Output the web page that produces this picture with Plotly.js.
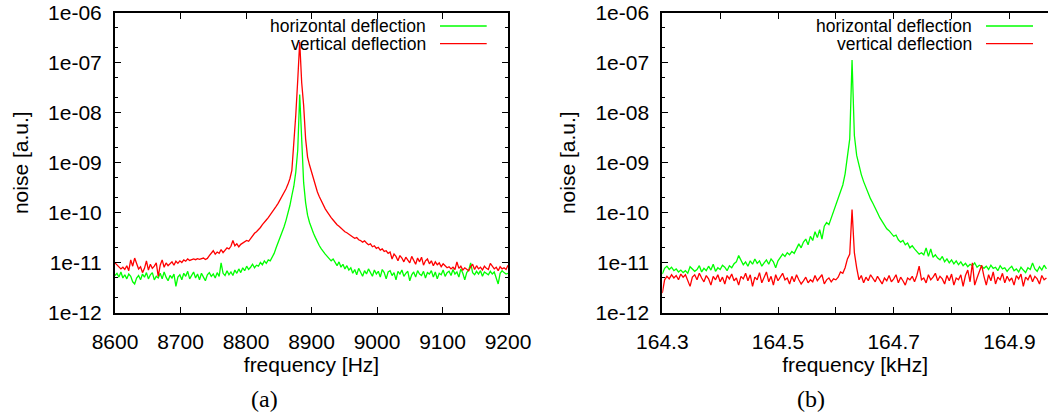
<!DOCTYPE html>
<html>
<head>
<meta charset="utf-8">
<script src="https://cdn.plot.ly/plotly-3.0.1.min.js"></script>
<style>
  html, body { margin: 0; padding: 0; background: #ffffff; overflow: hidden; }
  #chart { width: 1048px; height: 415px; }
</style>
</head>
<body>
<div id="chart"></div>
<script>
// ---------- panel (a): frequency in Hz ----------
const freqA = [
  8600,8603,8606,8609,8612,8615,8618,8621,8624,8627,
  8630,8633,8636,8639,8642,8645,8648,8651,8654,8657,
  8660,8663,8666,8669,8672,8675,8678,8681,8684,8687,
  8690,8693,8696,8699,8702,8705,8708,8711,8714,8717,
  8720,8723,8726,8729,8732,8735,8738,8741,8744,8747,
  8750,8753,8756,8759,8762,8765,8768,8771,8774,8777,
  8780,8783,8786,8789,8792,8795,8798,8801,8804,8807,
  8810,8813,8816,8819,8822,8825,8828,8831,8834,8837,
  8840,8843,8846,8849,8852,8855,8858,8861,8864,8867,
  8870,8873,8876,8879,8882,8885,8888,8891,8894,8897,
  8900,8903,8906,8909,8912,8915,8918,8921,8924,8927,
  8930,8933,8936,8939,8942,8945,8948,8951,8954,8957,
  8960,8963,8966,8969,8972,8975,8978,8981,8984,8987,
  8990,8993,8996,8999,9002,9005,9008,9011,9014,9017,
  9020,9023,9026,9029,9032,9035,9038,9041,9044,9047,
  9050,9053,9056,9059,9062,9065,9068,9071,9074,9077,
  9080,9083,9086,9089,9092,9095,9098,9101,9104,9107,
  9110,9113,9116,9119,9122,9125,9128,9131,9134,9137,
  9140,9143,9146,9149,9152,9155,9158,9161,9164,9167,
  9170,9173,9176,9179,9182,9185,9188,9191,9194,9197,
  9200
];
const horizA = [
  5.6e-12,6.2e-12,5.2e-12,6.6e-12,5.0e-12,5.8e-12,4.8e-12,6.0e-12,5.4e-12,4.2e-12,
  3.8e-12,5.0e-12,5.6e-12,4.6e-12,6.0e-12,5.2e-12,6.4e-12,4.8e-12,5.8e-12,6.4e-12,
  4.6e-12,5.4e-12,5.0e-12,6.2e-12,4.8e-12,6.6e-12,5.2e-12,4.4e-12,5.6e-12,5.0e-12,
  6.0e-12,3.4e-12,5.2e-12,5.8e-12,4.6e-12,6.2e-12,5.4e-12,6.8e-12,4.8e-12,5.6e-12,
  6.6e-12,5.0e-12,6.0e-12,4.6e-12,6.2e-12,5.2e-12,4.4e-12,5.8e-12,6.4e-12,5.4e-12,
  6.0e-12,5.0e-12,6.4e-12,5.4e-12,1.0e-11,6.2e-12,5.6e-12,7.0e-12,5.8e-12,6.6e-12,
  5.6e-12,7.2e-12,6.2e-12,7.6e-12,6.4e-12,8.0e-12,7.0e-12,8.6e-12,7.4e-12,8.2e-12,
  9.4e-12,8.0e-12,9.0e-12,8.6e-12,1.02e-11,9.2e-12,1.1e-11,9.8e-12,1.15e-11,1.1e-11,
  1.3e-11,1.55e-11,2.0e-11,2.5e-11,3.2e-11,4.0e-11,5.2e-11,7.0e-11,9.5e-11,1.4e-10,
  2.2e-10,3.4e-10,6.5e-10,1.8e-09,2.3e-08,2.0e-09,4.0e-10,1.6e-10,9.0e-11,6.4e-11,
  4.8e-11,3.9e-11,3.2e-11,2.6e-11,2.2e-11,1.9e-11,1.65e-11,1.5e-11,1.35e-11,1.2e-11,
  1.1e-11,1.2e-11,1.0e-11,8.8e-12,1.05e-11,8.2e-12,9.4e-12,7.6e-12,8.8e-12,7.2e-12,
  8.0e-12,6.2e-12,7.4e-12,5.8e-12,7.8e-12,6.4e-12,5.4e-12,7.0e-12,6.0e-12,7.6e-12,
  6.2e-12,5.4e-12,7.2e-12,6.0e-12,6.8e-12,5.2e-12,7.4e-12,6.4e-12,4.8e-12,6.6e-12,
  7.0e-12,5.6e-12,6.4e-12,4.6e-12,6.8e-12,6.0e-12,7.2e-12,5.4e-12,6.2e-12,6.8e-12,
  4.4e-12,5.8e-12,6.6e-12,5.2e-12,7.0e-12,6.0e-12,5.6e-12,6.8e-12,5.0e-12,6.4e-12,
  6.0e-12,7.0e-12,5.2e-12,6.6e-12,4.8e-12,6.2e-12,5.8e-12,7.2e-12,5.4e-12,6.4e-12,
  6.8e-12,5.6e-12,7.4e-12,6.0e-12,6.6e-12,5.2e-12,7.6e-12,6.2e-12,4.6e-12,6.4e-12,
  7.2e-12,1.0e-11,6.4e-12,5.8e-12,6.8e-12,6.0e-12,7.0e-12,5.4e-12,6.6e-12,6.2e-12,
  5.8e-12,6.8e-12,6.0e-12,6.6e-12,5.2e-12,3.8e-12,6.2e-12,7.0e-12,6.4e-12,6.0e-12,
  6.2e-12
];
const vertA = [
  1.0e-11,9.0e-12,8.4e-12,7.6e-12,8.2e-12,7.4e-12,8.8e-12,7.0e-12,1.15e-11,8.6e-12,
  1.25e-11,9.2e-12,7.6e-12,8.4e-12,6.4e-12,7.8e-12,1.1e-11,7.2e-12,9.4e-12,7.8e-12,
  8.6e-12,1.0e-11,5.4e-12,9.0e-12,1.15e-11,8.2e-12,1.0e-11,8.8e-12,9.6e-12,1.05e-11,
  9.0e-12,1.08e-11,9.8e-12,1.1e-11,1.02e-11,1.15e-11,1.08e-11,1.2e-11,1.12e-11,1.18e-11,
  1.2e-11,1.16e-11,1.22e-11,1.18e-11,1.2e-11,1.25e-11,1.17e-11,1.23e-11,1.4e-11,1.55e-11,
  1.75e-11,1.5e-11,1.65e-11,1.55e-11,1.85e-11,1.6e-11,1.75e-11,2.0e-11,1.9e-11,2.15e-11,
  2.8e-11,2.2e-11,2.4e-11,2.1e-11,2.35e-11,2.5e-11,2.6e-11,2.8e-11,2.7e-11,3.1e-11,
  3.5e-11,3.9e-11,4.2e-11,4.6e-11,5.1e-11,5.8e-11,6.6e-11,7.2e-11,8.0e-11,9.0e-11,
  1.05e-10,1.15e-10,1.35e-10,1.55e-10,1.8e-10,2.1e-10,2.5e-10,3.0e-10,3.7e-10,4.8e-10,
  7.0e-10,2.2e-09,9.0e-09,4.5e-08,2.6e-07,4.0e-08,1.4e-08,3.0e-09,1.3e-09,9.0e-10,
  6.5e-10,4.6e-10,3.4e-10,2.6e-10,2.1e-10,1.7e-10,1.4e-10,1.2e-10,1.05e-10,9.0e-11,
  8.0e-11,7.2e-11,6.4e-11,5.8e-11,5.4e-11,4.9e-11,4.5e-11,4.2e-11,4.0e-11,3.7e-11,
  3.5e-11,3.3e-11,3.1e-11,3.2e-11,2.9e-11,2.8e-11,2.6e-11,2.75e-11,2.5e-11,2.3e-11,
  2.4e-11,2.1e-11,2.2e-11,1.95e-11,2.05e-11,1.8e-11,1.9e-11,1.7e-11,1.75e-11,1.55e-11,
  1.65e-11,1.2e-11,1.5e-11,1.35e-11,1.1e-11,1.4e-11,1.25e-11,1.05e-11,1.3e-11,1.15e-11,
  1.0e-11,1.35e-11,1.15e-11,9.4e-12,1.25e-11,1.05e-11,1.3e-11,9.0e-12,1.1e-11,1.2e-11,
  9.6e-12,1.1e-11,8.8e-12,1.05e-11,9.2e-12,1.0e-11,8.4e-12,9.6e-12,8.8e-12,8.0e-12,
  8.4e-12,7.6e-12,8.2e-12,7.4e-12,1.05e-11,7.8e-12,8.6e-12,7.2e-12,8.0e-12,7.6e-12,
  7.0e-12,8.4e-12,9.4e-12,7.4e-12,8.8e-12,7.6e-12,8.2e-12,7.2e-12,8.6e-12,7.8e-12,
  7.4e-12,9.8e-12,8.6e-12,7.6e-12,8.2e-12,7.0e-12,8.4e-12,7.6e-12,8.0e-12,7.4e-12,
  9.0e-12
];

// ---------- panel (b): frequency in kHz ----------
const freqB = [
  164.300,164.304,164.308,164.312,164.316,164.320,164.324,164.328,164.332,164.336,
  164.340,164.344,164.348,164.352,164.356,164.360,164.364,164.368,164.372,164.376,
  164.380,164.384,164.388,164.392,164.396,164.400,164.404,164.408,164.412,164.416,
  164.420,164.424,164.428,164.432,164.436,164.440,164.444,164.448,164.452,164.456,
  164.460,164.464,164.468,164.472,164.476,164.480,164.484,164.488,164.492,164.496,
  164.500,164.504,164.508,164.512,164.516,164.520,164.524,164.528,164.532,164.536,
  164.540,164.544,164.548,164.552,164.556,164.560,164.564,164.568,164.572,164.576,
  164.580,164.584,164.588,164.592,164.596,164.600,164.604,164.608,164.612,164.616,
  164.620,164.624,164.628,164.632,164.636,164.640,164.644,164.648,164.652,164.656,
  164.660,164.664,164.668,164.672,164.676,164.680,164.684,164.688,164.692,164.696,
  164.700,164.704,164.708,164.712,164.716,164.720,164.724,164.728,164.732,164.736,
  164.740,164.744,164.748,164.752,164.756,164.760,164.764,164.768,164.772,164.776,
  164.780,164.784,164.788,164.792,164.796,164.800,164.804,164.808,164.812,164.816,
  164.820,164.824,164.828,164.832,164.836,164.840,164.844,164.848,164.852,164.856,
  164.860,164.864,164.868,164.872,164.876,164.880,164.884,164.888,164.892,164.896,
  164.900,164.904,164.908,164.912,164.916,164.920,164.924,164.928,164.932,164.936,
  164.940,164.944,164.948,164.952,164.956,164.960,164.964
];
const horizB = [
  6.0e-12,7.8e-12,8.6e-12,7.4e-12,8.2e-12,7.0e-12,7.6e-12,6.6e-12,7.2e-12,6.4e-12,
  7.0e-12,6.2e-12,8.4e-12,7.6e-12,6.8e-12,7.4e-12,8.8e-12,6.6e-12,7.8e-12,7.0e-12,
  8.6e-12,7.2e-12,9.4e-12,6.8e-12,8.0e-12,7.4e-12,9.0e-12,8.2e-12,7.0e-12,8.8e-12,
  8.0e-12,9.6e-12,1.05e-11,1.4e-11,1.15e-11,9.2e-12,1.05e-11,8.6e-12,1.1e-11,9.4e-12,
  1.2e-11,9.8e-12,1.1e-11,8.6e-12,1.0e-11,1.15e-11,9.4e-12,1.2e-11,1.05e-11,8.0e-12,
  1.1e-11,1.3e-11,1.5e-11,1.35e-11,1.6e-11,1.45e-11,1.7e-11,1.55e-11,1.9e-11,2.4e-11,
  2.0e-11,2.6e-11,3.0e-11,2.3e-11,3.4e-11,2.8e-11,4.2e-11,3.2e-11,4.6e-11,3.0e-11,
  5.4e-11,6.4e-11,5.8e-11,8.0e-11,1.05e-10,1.5e-10,1.9e-10,2.6e-10,3.6e-10,6.0e-10,
  1.3e-09,3.0e-09,1.12e-07,3.5e-09,1.4e-09,8.5e-10,5.8e-10,4.2e-10,3.2e-10,2.4e-10,
  1.9e-10,1.55e-10,1.2e-10,1.0e-10,8.0e-11,6.8e-11,5.8e-11,4.8e-11,4.4e-11,3.9e-11,
  3.4e-11,3.6e-11,2.9e-11,2.6e-11,2.8e-11,2.3e-11,2.5e-11,2.0e-11,2.2e-11,1.9e-11,
  1.7e-11,1.5e-11,1.6e-11,1.45e-11,2.0e-11,1.35e-11,1.9e-11,1.3e-11,1.45e-11,1.25e-11,
  1.15e-11,1.35e-11,1.05e-11,1.2e-11,1.0e-11,1.15e-11,9.6e-12,1.1e-11,9.2e-12,1.05e-11,
  8.8e-12,9.8e-12,8.4e-12,9.4e-12,8.8e-12,1.0e-11,8.2e-12,9.0e-12,8.6e-12,7.8e-12,
  8.6e-12,7.4e-12,9.0e-12,7.8e-12,8.2e-12,7.0e-12,8.8e-12,7.6e-12,8.0e-12,6.8e-12,
  7.8e-12,8.6e-12,7.0e-12,7.6e-12,6.6e-12,8.2e-12,7.2e-12,6.4e-12,8.0e-12,7.4e-12,
  1.0e-11,7.6e-12,6.8e-12,8.4e-12,7.2e-12,9.0e-12,7.6e-12
];
const vertB = [
  2.5e-12,4.6e-12,5.4e-12,4.8e-12,5.8e-12,5.0e-12,5.6e-12,4.6e-12,6.0e-12,5.2e-12,
  5.8e-12,4.4e-12,3.4e-12,5.2e-12,5.8e-12,4.6e-12,6.2e-12,5.0e-12,4.2e-12,5.6e-12,
  4.8e-12,3.6e-12,5.4e-12,4.6e-12,5.8e-12,4.2e-12,5.2e-12,3.8e-12,5.6e-12,4.8e-12,
  6.0e-12,4.4e-12,5.0e-12,3.6e-12,5.4e-12,4.8e-12,6.2e-12,4.4e-12,5.8e-12,3.4e-12,
  5.2e-12,4.6e-12,6.4e-12,4.0e-12,5.0e-12,6.6e-12,4.2e-12,5.4e-12,3.6e-12,5.8e-12,
  4.4e-12,5.2e-12,6.2e-12,4.6e-12,5.0e-12,3.8e-12,5.4e-12,4.2e-12,5.8e-12,4.6e-12,
  3.8e-12,4.4e-12,5.2e-12,4.0e-12,4.6e-12,4.2e-12,5.6e-12,4.4e-12,5.0e-12,5.8e-12,
  3.8e-12,4.6e-12,5.0e-12,4.2e-12,4.8e-12,4.6e-12,5.2e-12,6.6e-12,6.2e-12,8.0e-12,
  1.2e-11,1.5e-11,1.16e-10,1.6e-11,8.0e-12,4.6e-12,5.6e-12,4.0e-12,5.2e-12,4.4e-12,
  5.8e-12,4.8e-12,4.2e-12,5.4e-12,4.6e-12,3.8e-12,5.0e-12,4.4e-12,5.6e-12,4.2e-12,
  4.8e-12,5.8e-12,4.0e-12,5.2e-12,4.4e-12,3.6e-12,5.0e-12,4.6e-12,5.4e-12,4.2e-12,
  5.6e-12,8.6e-12,4.6e-12,5.0e-12,4.0e-12,5.8e-12,4.6e-12,5.2e-12,6.2e-12,4.4e-12,
  5.4e-12,4.8e-12,3.8e-12,5.6e-12,4.4e-12,6.0e-12,3.6e-12,5.0e-12,4.6e-12,5.8e-12,
  3.4e-12,5.6e-12,7.2e-12,4.2e-12,1.0e-11,3.6e-12,5.0e-12,6.8e-12,9.0e-12,5.4e-12,
  3.6e-12,5.8e-12,4.4e-12,6.6e-12,3.8e-12,5.2e-12,4.6e-12,6.2e-12,4.0e-12,5.4e-12,
  4.4e-12,5.0e-12,3.6e-12,5.6e-12,4.8e-12,6.0e-12,3.4e-12,5.2e-12,4.6e-12,5.8e-12,
  4.2e-12,5.4e-12,4.8e-12,3.8e-12,5.6e-12,4.6e-12,5.0e-12
];

// ---------- ticks and labels ----------
const seriesNames = ['horizontal deflection', 'vertical deflection'];
const seriesColors = ['#00ff00', '#ff0000'];
const yTickVals = [1e-12, 1e-11, 1e-10, 1e-9, 1e-8, 1e-7, 1e-6];
const yTickText = ['1e-12', '1e-11', '1e-10', '1e-09', '1e-08', '1e-07', '1e-06'];
const yMinorVals = [2e-12,5e-12,2e-11,5e-11,2e-10,5e-10,2e-9,5e-9,2e-8,5e-8,2e-7,5e-7];
const xTickValsA = [8600, 8700, 8800, 8900, 9000, 9100, 9200];
const xTickTextA = ['8600', '8700', '8800', '8900', '9000', '9100', '9200'];
const xTickValsB = [164.3, 164.4, 164.5, 164.6, 164.7, 164.8, 164.9];
const xTickTextB = ['164.3', '', '164.5', '', '164.7', '', '164.9'];
const xTitleA = 'frequency [Hz]';
const xTitleB = 'frequency [kHz]';
const yTitle = 'noise [a.u.]';
const captions = ['(a)', '(b)'];

const W = 1048, H = 415;
const fontSans = '"Liberation Sans", Arial, Helvetica, sans-serif';
const fontSerif = '"Liberation Serif", "Times New Roman", serif';
const dataLineWidth = 1.3;

const traces = [
  { x: freqA, y: horizA, xaxis: 'x', yaxis: 'y', name: seriesNames[0], type: 'scatter', mode: 'lines',
    line: { color: seriesColors[0], width: dataLineWidth } },
  { x: freqA, y: vertA, xaxis: 'x', yaxis: 'y', name: seriesNames[1], type: 'scatter', mode: 'lines',
    line: { color: seriesColors[1], width: dataLineWidth } },
  { x: freqB, y: horizB, xaxis: 'x2', yaxis: 'y2', name: seriesNames[0], type: 'scatter', mode: 'lines',
    line: { color: seriesColors[0], width: dataLineWidth } },
  { x: freqB, y: vertB, xaxis: 'x2', yaxis: 'y2', name: seriesNames[1], type: 'scatter', mode: 'lines',
    line: { color: seriesColors[1], width: dataLineWidth } }
];

const yDomain = [1 - 313 / H, 1 - 12.5 / H];

function yAxisDef(anchor, mirror) {
  return {
    anchor: anchor, domain: yDomain, type: 'log', range: [-12, -6],
    tickmode: 'array', tickvals: yTickVals, ticktext: yTickText,
    ticks: 'inside', ticklen: 6, tickwidth: 1, tickcolor: '#000',
    minor: { tickmode: 'array', tickvals: yMinorVals, ticks: 'inside', ticklen: 3, tickwidth: 1, tickcolor: '#000', showgrid: false },
    showline: true, linewidth: 2, linecolor: '#000', mirror: mirror,
    showgrid: false, zeroline: false,
    tickfont: { family: fontSans, size: 21, color: '#000' },
    ticklabelstandoff: 7,
    title: { text: yTitle, font: { family: fontSans, size: 21, color: '#000' }, standoff: 14 },
    automargin: false, fixedrange: true
  };
}
function xAxisDef(anchor, domain, range, vals, text, title) {
  return {
    anchor: anchor, domain: domain, range: range,
    tickmode: 'array', tickvals: vals, ticktext: text,
    ticks: 'inside', ticklen: 6, tickwidth: 1, tickcolor: '#000',
    showline: true, linewidth: 2, linecolor: '#000', mirror: 'ticks',
    showgrid: false, zeroline: false,
    tickfont: { family: fontSans, size: 21, color: '#000' },
    ticklabelstandoff: 9,
    title: { text: title, font: { family: fontSans, size: 21, color: '#000' }, standoff: 5 },
    automargin: false, fixedrange: true
  };
}

// legend drawn gnuplot-style: text right-aligned, sample line on its right
const legendRows = [1 - 26 / H, 1 - 43.7 / H];
const legendA = { textRight: 427.7 / W, x0: 440 / W, x1: 486.7 / W };
const legendB = { textRight: 974.3 / W, x0: 986 / W, x1: 1033 / W };
const annotations = [];
const shapes = [];
[legendA, legendB].forEach(function (lg) {
  seriesNames.forEach(function (nm, i) {
    annotations.push({ xref: 'paper', yref: 'paper', x: lg.textRight, y: legendRows[i],
      xanchor: 'right', yanchor: 'middle', text: nm, showarrow: false,
      font: { family: fontSans, size: 17.5, color: '#000' } });
    shapes.push({ type: 'line', xref: 'paper', yref: 'paper', x0: lg.x0, x1: lg.x1,
      y0: legendRows[i], y1: legendRows[i], line: { color: seriesColors[i], width: dataLineWidth } });
  });
});
annotations.push({ xref: 'paper', yref: 'paper', x: 264 / W, y: 1 - 399 / H, xanchor: 'center', yanchor: 'middle',
  text: captions[0], showarrow: false, font: { family: fontSerif, size: 24, color: '#000' } });
annotations.push({ xref: 'paper', yref: 'paper', x: 811 / W, y: 1 - 399 / H, xanchor: 'center', yanchor: 'middle',
  text: captions[1], showarrow: false, font: { family: fontSerif, size: 24, color: '#000' } });

const layout = {
  width: W, height: H,
  margin: { l: 0, r: 0, t: 0, b: 0, pad: 0 },
  paper_bgcolor: '#ffffff', plot_bgcolor: '#ffffff',
  showlegend: false,
  xaxis: xAxisDef('y', [115 / W, 508 / W], [8600, 9200], xTickValsA, xTickTextA, xTitleA),
  yaxis: yAxisDef('x', 'ticks'),
  xaxis2: xAxisDef('y2', [662.3 / W, 1], [164.3, 164.9667], xTickValsB, xTickTextB, xTitleB),
  yaxis2: yAxisDef('x2', false),
  annotations: annotations,
  shapes: shapes
};

Plotly.newPlot('chart', traces, layout, { staticPlot: true, displayModeBar: false });
</script>
</body>
</html>
